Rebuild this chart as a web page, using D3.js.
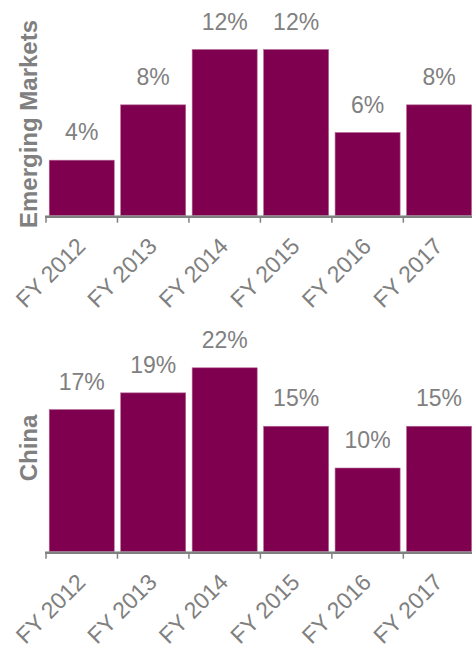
<!DOCTYPE html>
<html>
<head>
<meta charset="utf-8">
<script src="https://cdn.jsdelivr.net/npm/d3@7"></script>
<style>
  html, body { margin: 0; padding: 0; background: #fff; }
  svg { display: block; }
  text { font-family: "Liberation Sans", Arial, Helvetica, sans-serif; }
</style>
</head>
<body>
<div id="chart"></div>
<script>
// Fiscal years shown along both axes
const years = ["FY 2012", "FY 2013", "FY 2014", "FY 2015", "FY 2016", "FY 2017"];
// Growth (%) per fiscal year
const emergingMarkets = [4, 8, 12, 12, 6, 8];
const china = [17, 19, 22, 15, 10, 15];
const panelTitles = ["Emerging Markets", "China"];

const width = 472, height = 650;
const barColor = "#800050";
const grey = "#808080";

const svg = d3.select("#chart").append("svg")
  .attr("width", width)
  .attr("height", height);

// Shared category scale; ticks sit in the gaps between bars
const x = d3.scaleBand()
  .domain(years)
  .range([46, 474.8])
  .paddingInner(0.09)
  .paddingOuter(0.045);

const panels = [
  { title: panelTitles[0], values: emergingMarkets, base: 215.5, top: 49.5, max: 12, titleY: 124 },
  { title: panelTitles[1], values: china, base: 551.5, top: 367.8, max: 22, titleY: 448 }
];

panels.forEach(p => {
  const y = d3.scaleLinear().domain([0, p.max]).range([p.base, p.top]);
  const g = svg.append("g");
  const rows = years.map((yr, i) => ({ year: yr, value: p.values[i] }));

  // bars
  g.selectAll("rect.bar").data(rows).join("rect")
    .attr("class", "bar")
    .attr("x", d => x(d.year))
    .attr("width", x.bandwidth())
    .attr("y", d => y(d.value))
    .attr("height", d => y(0) - y(d.value))
    .attr("fill", barColor)
    .attr("stroke", "#b36b96")
    .attr("stroke-width", 0.6);

  // value labels
  g.selectAll("text.val").data(rows).join("text")
    .attr("class", "val")
    .attr("x", d => x(d.year) + x.bandwidth() / 2)
    .attr("y", d => y(d.value) - 20)
    .attr("text-anchor", "middle")
    .attr("font-size", 23)
    .attr("fill", grey)
    .text(d => d.value + "%");

  // axis baseline and ticks
  const axisY = y(0) + 1.2;
  const gap = x.step() * x.paddingInner() / 2;
  g.append("line")
    .attr("x1", 45).attr("x2", width)
    .attr("y1", axisY).attr("y2", axisY)
    .attr("stroke", grey).attr("stroke-width", 2.5);
  g.selectAll("line.tick").data(years).join("line")
    .attr("class", "tick")
    .attr("x1", d => x(d) - gap).attr("x2", d => x(d) - gap)
    .attr("y1", axisY).attr("y2", axisY + 6)
    .attr("stroke", grey).attr("stroke-width", 1.5);

  // rotated category labels
  g.selectAll("text.cat").data(years).join("text")
    .attr("class", "cat")
    .attr("transform", d => `translate(${x(d) + x.bandwidth() / 2 + 5},${axisY + 31}) rotate(-45)`)
    .attr("text-anchor", "end")
    .attr("font-size", 23)
    .attr("fill", grey)
    .text(d => d);

  // panel title
  svg.append("text")
    .attr("transform", `translate(37,${p.titleY}) rotate(-90)`)
    .attr("text-anchor", "middle")
    .attr("font-size", 24)
    .attr("font-weight", "bold")
    .attr("fill", grey)
    .text(p.title);
});
</script>
</body>
</html>
